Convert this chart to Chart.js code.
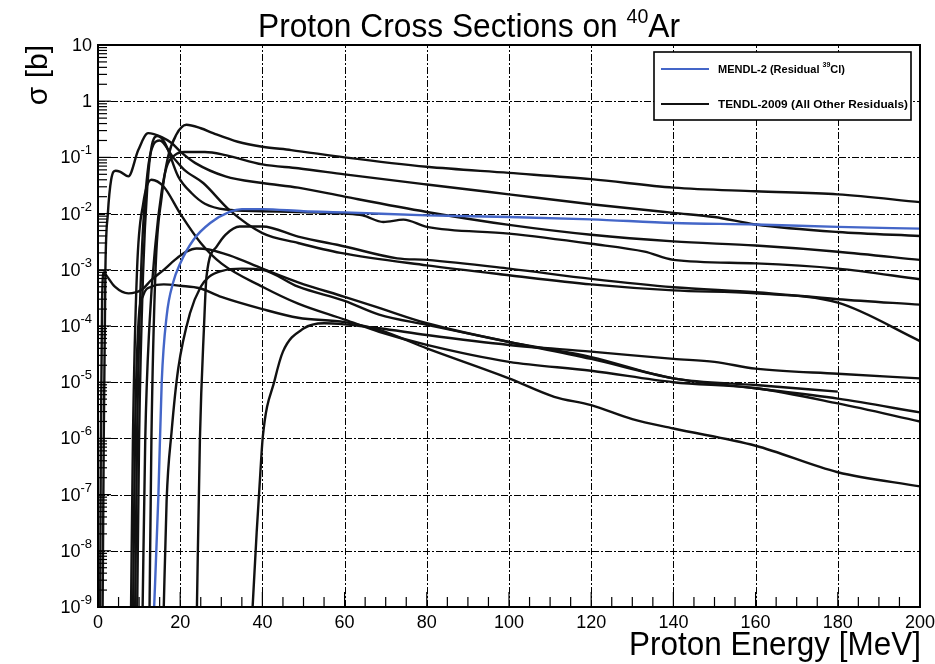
<!DOCTYPE html>
<html>
<head>
<meta charset="utf-8">
<script src="https://cdn.jsdelivr.net/npm/chart.js@4.4.0/dist/chart.umd.min.js"></script>
<style>
html, body { margin: 0; padding: 0; background: #fff; }
#wrap { width: 935px; height: 664px; }
</style>
</head>
<body>
<div id="wrap"><canvas id="xsChart" width="935" height="664"></canvas></div>
<script>
// tick values
const xMajorTicks = [0, 20, 40, 60, 80, 100, 120, 140, 160, 180, 200];
const yDecades = [1e-9, 1e-8, 1e-7, 1e-6, 1e-5, 1e-4, 1e-3, 1e-2, 1e-1, 1, 10];
const yLabels = ["10^-9", "10^-8", "10^-7", "10^-6", "10^-5", "10^-4", "10^-3", "10^-2", "10^-1", "1", "10"];

// MENDL-2, residual 39Cl
const mendlE = [13.5, 14.7, 15.5, 16.7, 18.3, 20, 23.2, 27.3, 32, 35, 40, 50, 60, 80, 100, 120, 140, 160, 180, 200];
const mendlXs = [5e-10, 1e-7, 1e-5, 1.5e-4, 6e-4, 1.3e-3, 3.4e-3, 6.8e-3, 1.07e-2, 1.2e-2, 1.2e-2, 1.1e-2, 1.05e-2, 9.3e-3, 8.7e-3, 7.9e-3, 6.8e-3, 6.4e-3, 5.8e-3, 5.4e-3];

// TENDL-2009, all other residuals
const t1E = [12.5, 13, 14, 15.5, 17, 19, 21.5, 25, 28, 34, 40, 47, 60, 80, 100, 120, 140, 160, 180, 200];
const t1Xs = [5e-10, 1e-6, 1e-3, 2e-2, 0.1, 0.25, 0.38, 0.33, 0.27, 0.19, 0.155, 0.135, 0.1, 0.068, 0.053, 0.041, 0.029, 0.025, 0.022, 0.016];

const t2E = [10.8, 11.5, 12.5, 14, 15.5, 16.7, 18.7, 21, 26, 31, 40, 48.7, 60, 80, 100, 120, 140, 150, 160, 180, 200];
const t2Xs = [5e-10, 1e-6, 1e-4, 3e-3, 2.5e-2, 6.8e-2, 0.11, 0.125, 0.125, 0.11, 0.075, 0.064, 0.05, 0.033, 0.022, 0.0147, 0.0103, 0.0087, 0.0064, 0.0047, 0.004];

const t3E = [1.1, 1.4, 1.8, 2.4, 3.2, 4.3, 5.3, 7.4, 9.8, 12.2, 15.5, 17.9, 20.4, 23.6, 31, 40, 48.7, 60, 80, 100, 120, 140, 160, 180, 200];
const t3Xs = [5e-10, 1e-6, 1e-3, 1e-2, 4e-2, 5.8e-2, 5.6e-2, 4.6e-2, 0.135, 0.27, 0.23, 0.18, 0.12, 0.08, 0.046, 0.035, 0.029, 0.02, 0.0107, 0.0063, 0.0042, 0.0032, 0.0027, 0.0021, 0.0015];

const t4E = [9.5, 10, 11, 12, 13, 14.5, 16.3, 19.5, 22.8, 26, 31, 40, 48.7, 60, 64.4, 69.4, 74.3, 80, 100, 120, 133, 140, 160, 180, 200];
const t4Xs = [5e-10, 1e-6, 1e-3, 3e-2, 0.15, 0.24, 0.18, 0.046, 0.023, 0.015, 0.0118, 0.011, 0.0107, 0.01, 0.0093, 0.0071, 0.0078, 0.0058, 0.0044, 0.0029, 0.0021, 0.0015, 0.0013, 0.00105, 0.00068];

const t5E = [24, 24.8, 25.8, 26.4, 28.9, 31, 34.5, 40, 48.7, 60, 72.8, 80, 100, 120, 140, 160, 180, 200];
const t5Xs = [5e-10, 1e-6, 1e-4, 7.6e-4, 2.6e-3, 4.2e-3, 5.9e-3, 5.9e-3, 3.9e-3, 2.6e-3, 1.6e-3, 1.5e-3, 1.05e-3, 6.9e-4, 4.9e-4, 4e-4, 3e-4, 2.4e-4];

const t6E = [9, 9.5, 10.5, 12, 13.5, 15, 18.3, 21, 25.6, 32, 40, 48.7, 59, 80, 100, 120, 140, 160, 180, 200];
const t6Xs = [5e-10, 1e-6, 1e-3, 5e-2, 0.17, 0.2, 0.1, 0.06, 0.035, 0.0115, 4.5e-3, 3e-3, 2e-3, 1.2e-3, 8e-4, 5.5e-4, 4.3e-4, 3.8e-4, 2.6e-4, 5.4e-5];

const t7E = [0.5, 0.7, 1.0, 1.4, 2.0, 4.1, 7.4, 10.6, 13, 16, 18.7, 21.5, 24, 27, 32, 40, 48.7, 60, 68.4, 80, 100, 120, 140, 160, 180];
const t7Xs = [5e-10, 1e-6, 3e-4, 9e-4, 8e-4, 5e-4, 3.8e-4, 4.4e-4, 6.6e-4, 1e-3, 1.5e-3, 2.1e-3, 2.4e-3, 2.3e-3, 1.8e-3, 1.05e-3, 6e-4, 3.3e-4, 2.1e-4, 1.12e-4, 5.2e-5, 2.8e-5, 1.17e-5, 8.9e-6, 6.8e-6];

const t8E = [15.9, 16.7, 17.9, 19.5, 22.4, 25, 27, 30, 35, 40, 48.7, 60, 68.4, 80, 100, 120, 140, 160, 180, 200];
const t8Xs = [5e-10, 8e-8, 1.3e-6, 1.7e-5, 1.7e-4, 5e-4, 7.5e-4, 9.5e-4, 1.05e-3, 1e-3, 5e-4, 2.8e-4, 1.6e-4, 1.05e-4, 5.2e-5, 2.6e-5, 1.17e-5, 7.8e-6, 5.1e-6, 2.9e-6];

const t9E = [37.4, 38.6, 39.3, 40.1, 43, 45, 50, 55, 60, 68.4, 80, 100, 120, 140, 150, 160, 180, 200];
const t9Xs = [5e-10, 2.1e-8, 1.4e-7, 1.07e-6, 1.1e-5, 3.5e-5, 9e-5, 1.12e-4, 1.07e-4, 9.1e-5, 6.9e-5, 4.6e-5, 3.5e-5, 2.6e-5, 2.3e-5, 1.74e-5, 1.41e-5, 1.17e-5];

const t10E = [8.5, 9, 9.8, 11, 13, 16, 20, 24.8, 30, 40, 48.7, 60, 68.4, 80, 100, 111, 120, 130, 140, 160, 180, 200];
const t10Xs = [5e-10, 1e-6, 1e-4, 3.5e-4, 5e-4, 5.5e-4, 5.2e-4, 4.7e-4, 3.3e-4, 2e-4, 1.4e-4, 1.17e-4, 8.5e-5, 4e-5, 1.17e-5, 5.5e-6, 3.9e-6, 2.2e-6, 1.5e-6, 7.4e-7, 2.5e-7, 1.4e-7];

const t11E = [8, 8.5, 9.5, 11, 13, 16, 20, 25, 30, 40, 48.7, 60, 68.4, 80, 100, 120, 140, 160, 180, 200];
const t11Xs = [5e-10, 1e-6, 1e-3, 1.5e-2, 4e-2, 3e-2, 1e-2, 3e-3, 1.3e-3, 5e-4, 2.5e-4, 1.3e-4, 7.9e-5, 4.6e-5, 2.3e-5, 1.6e-5, 1e-5, 7.8e-6, 4.2e-6, 2e-6];

const tendlCurves = [
    [t1E, t1Xs], [t2E, t2Xs], [t3E, t3Xs], [t4E, t4Xs], [t5E, t5Xs], [t6E, t6Xs],
    [t7E, t7Xs], [t8E, t8Xs], [t9E, t9Xs], [t10E, t10Xs], [t11E, t11Xs],
];

const BLUE = "#4466c8";
const FONT = "'Liberation Sans', Arial, Helvetica, sans-serif";

function toPoints(es, xs) {
    return es.map(function (e, i) {
        return { x: e, y: xs[i] };
    });
}

function lineSet(label, es, xs, color) {
    return {
        label: label,
        data: toPoints(es, xs),
        showLine: true,
        borderColor: color,
        borderWidth: 2.4,
        pointRadius: 0,
        pointHoverRadius: 0,
        fill: false,
        cubicInterpolationMode: "monotone",
        clip: 0,
    };
}

const datasets = [lineSet("MENDL-2 (Residual 39Cl)", mendlE, mendlXs, BLUE)];
tendlCurves.forEach(function (c, i) {
    datasets.push(lineSet(i === 0 ? "TENDL-2009 (All Other Residuals)" : "", c[0], c[1], "#111"));
});

// text with a raised part, "10^-3" style
function drawSup(ctx, base, sup, x, y, baseSize, supSize, align) {
    ctx.font = baseSize + "px " + FONT;
    const wb = ctx.measureText(base).width;
    ctx.font = supSize + "px " + FONT;
    const ws = sup ? ctx.measureText(sup).width : 0;
    let left = x;
    if (align === "right") left = x - wb - ws;
    if (align === "center") left = x - (wb + ws) / 2;
    ctx.textAlign = "left";
    ctx.textBaseline = "middle";
    ctx.font = baseSize + "px " + FONT;
    ctx.fillText(base, left, y);
    if (sup) {
        ctx.font = supSize + "px " + FONT;
        ctx.fillText(sup, left + wb, y - baseSize * 0.42);
    }
}

function fitText(ctx, text, x, y, width) {
    const w = ctx.measureText(text).width;
    ctx.save();
    ctx.translate(x, y);
    ctx.scale(width / w, 1);
    ctx.fillText(text, 0, 0);
    ctx.restore();
}

const rootStyle = {
    id: "rootStyle",
    beforeDatasetsDraw: function (chart) {
        const ctx = chart.ctx;
        const a = chart.chartArea;
        const xs = chart.scales.x;
        const ys = chart.scales.y;
        ctx.save();
        ctx.strokeStyle = "#000";
        ctx.lineWidth = 1;
        ctx.setLineDash([7, 2, 2, 2]);
        xMajorTicks.slice(1, -1).forEach(function (v) {
            const px = Math.round(xs.getPixelForValue(v)) + 0.5;
            ctx.beginPath();
            ctx.moveTo(px, a.bottom);
            ctx.lineTo(px, a.top);
            ctx.stroke();
        });
        yDecades.slice(1, -1).forEach(function (v) {
            const py = Math.round(ys.getPixelForValue(v)) + 0.5;
            ctx.beginPath();
            ctx.moveTo(a.left, py);
            ctx.lineTo(a.right, py);
            ctx.stroke();
        });
        ctx.restore();
    },
    afterDatasetsDraw: function (chart) {
        const ctx = chart.ctx;
        const a = chart.chartArea;
        const xs = chart.scales.x;
        const ys = chart.scales.y;
        ctx.save();
        ctx.setLineDash([]);
        ctx.strokeStyle = "#000";
        ctx.fillStyle = "#000";

        // ticks on the left axis
        ctx.lineWidth = 1.2;
        yDecades.forEach(function (v, i) {
            const py = ys.getPixelForValue(v);
            ctx.beginPath();
            ctx.moveTo(a.left, py);
            ctx.lineTo(a.left + 13, py);
            ctx.stroke();
            if (i === yDecades.length - 1) return;
            for (let m = 2; m <= 9; m++) {
                const pm = ys.getPixelForValue(v * m);
                ctx.beginPath();
                ctx.moveTo(a.left, pm);
                ctx.lineTo(a.left + 9, pm);
                ctx.stroke();
            }
        });
        // ticks on the bottom axis
        for (let e = 0; e <= 200; e += 5) {
            const px = xs.getPixelForValue(e);
            const len = e % 20 === 0 ? 15 : 10;
            ctx.beginPath();
            ctx.moveTo(px, a.bottom);
            ctx.lineTo(px, a.bottom - len);
            ctx.stroke();
        }

        // frame
        ctx.lineWidth = 2;
        ctx.strokeRect(a.left, a.top, a.right - a.left, a.bottom - a.top);

        // tick labels
        yLabels.forEach(function (lab, i) {
            const py = ys.getPixelForValue(yDecades[i]);
            const parts = lab.split("^");
            drawSup(ctx, parts[0], parts[1] || "", 92, py + 1, 18, 13, "right");
        });
        ctx.font = "18px " + FONT;
        ctx.textAlign = "center";
        ctx.textBaseline = "middle";
        xMajorTicks.forEach(function (v) {
            ctx.fillText(String(v), xs.getPixelForValue(v), 623);
        });

        // title
        ctx.font = "34px " + FONT;
        ctx.textBaseline = "alphabetic";
        ctx.textAlign = "left";
        const t1 = "Proton Cross Sections on ";
        const w1 = ctx.measureText(t1).width;
        const wAr = ctx.measureText("Ar").width;
        ctx.font = "21px " + FONT;
        const w40 = ctx.measureText("40").width;
        const total = w1 + w40 + wAr;
        const sx = 422 / total;
        ctx.save();
        ctx.translate(258, 37);
        ctx.scale(sx, 1);
        ctx.font = "34px " + FONT;
        ctx.fillText(t1, 0, 0);
        ctx.font = "21px " + FONT;
        ctx.fillText("40", w1, -14);
        ctx.font = "34px " + FONT;
        ctx.fillText("Ar", w1 + w40, 0);
        ctx.restore();

        // x axis title
        ctx.font = "33px " + FONT;
        ctx.textAlign = "left";
        ctx.textBaseline = "alphabetic";
        fitText(ctx, "Proton Energy [MeV]", 629, 655, 292);

        // y axis title
        ctx.save();
        ctx.translate(47, 45);
        ctx.rotate(-Math.PI / 2);
        ctx.font = "30px " + FONT;
        ctx.textAlign = "right";
        ctx.textBaseline = "alphabetic";
        ctx.fillText("\u03c3 [b]", 0, 0);
        ctx.restore();

        // legend
        ctx.fillStyle = "#fff";
        ctx.fillRect(654, 52, 257, 68);
        ctx.lineWidth = 1.6;
        ctx.strokeStyle = "#000";
        ctx.strokeRect(654, 52, 257, 68);
        ctx.lineWidth = 2;
        ctx.strokeStyle = BLUE;
        ctx.beginPath();
        ctx.moveTo(661, 69);
        ctx.lineTo(709, 69);
        ctx.stroke();
        ctx.strokeStyle = "#111";
        ctx.beginPath();
        ctx.moveTo(661, 104);
        ctx.lineTo(709, 104);
        ctx.stroke();
        ctx.fillStyle = "#000";
        ctx.textAlign = "left";
        ctx.textBaseline = "middle";
        ctx.font = "bold 11px " + FONT;
        const m1 = "MENDL-2 (Residual ";
        ctx.fillText(m1, 718, 70);
        const wm1 = ctx.measureText(m1).width;
        ctx.font = "bold 7px " + FONT;
        ctx.fillText("39", 718 + wm1, 65);
        const w39 = ctx.measureText("39").width;
        ctx.font = "bold 11px " + FONT;
        ctx.fillText("Cl)", 718 + wm1 + w39, 70);
        fitText(ctx, "TENDL-2009 (All Other Residuals)", 718, 105, 190);
        ctx.restore();
    },
};

new Chart(document.getElementById("xsChart"), {
    type: "scatter",
    data: { datasets: datasets },
    options: {
        responsive: false,
        animation: false,
        devicePixelRatio: 1,
        layout: { padding: { left: 98, right: 15, top: 45, bottom: 57 } },
        plugins: {
            legend: { display: false },
            tooltip: { enabled: false },
        },
        scales: {
            x: {
                type: "linear",
                min: 0,
                max: 200,
                grid: { display: false },
                border: { display: false },
                ticks: { display: false },
                afterFit: function (s) { s.height = 0; },
            },
            y: {
                type: "logarithmic",
                min: 1e-9,
                max: 10,
                grid: { display: false },
                border: { display: false },
                ticks: { display: false },
                afterFit: function (s) { s.width = 0; },
            },
        },
    },
    plugins: [rootStyle],
});
</script>
</body>
</html>
